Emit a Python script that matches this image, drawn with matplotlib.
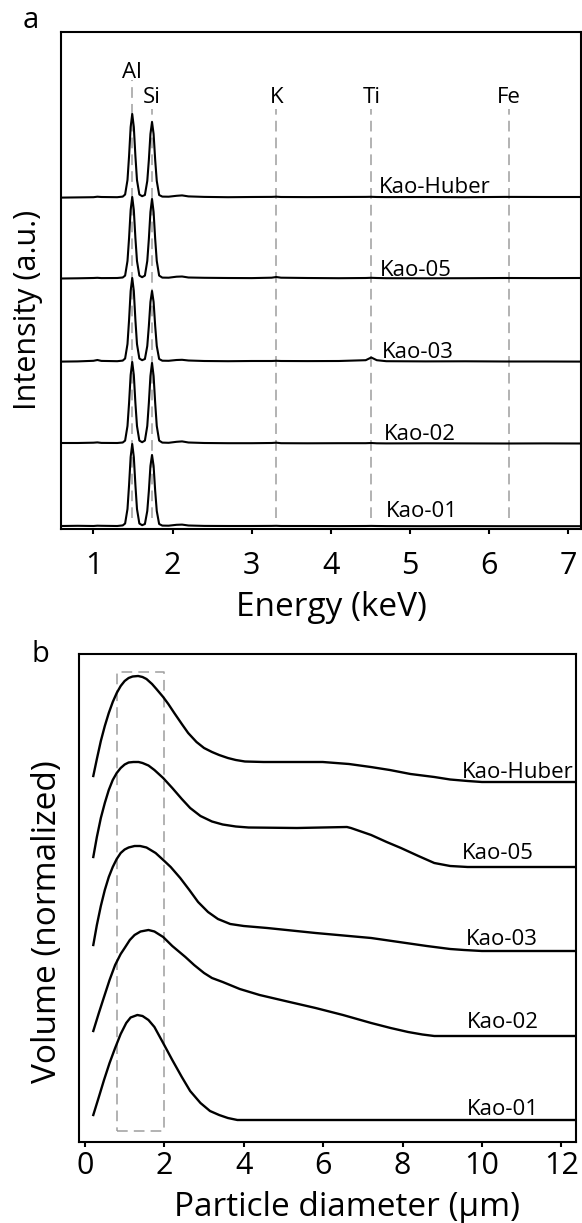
import matplotlib.pyplot as plt

plt.rcParams["font.family"] = ["Open Sans", "DejaVu Sans"]

# ---- panel a: EDS spectra (intensity in arbitrary units above each baseline)
energy_kev = [0.60, 0.80, 1.00, 1.05, 1.10, 1.30, 1.37,
              1.40, 1.43, 1.45, 1.47, 1.49, 1.51, 1.53, 1.55, 1.58,
              1.615,
              1.65, 1.68, 1.70, 1.72, 1.74, 1.76, 1.78, 1.80, 1.83,
              1.87, 1.95, 2.05, 2.12, 2.20, 2.40, 2.70, 3.00, 3.25, 3.31, 3.37,
              3.70, 4.10, 4.44, 4.51, 4.58, 4.70, 5.20, 5.70, 6.20, 6.70, 7.16]

eds_kao_huber = [-0.6, -0.4, -0.2, 0.3, 0.0, -0.2, 0.4,
                 2.5, 17, 41, 70, 83, 70, 41, 17, 2.5,
                 0.8,
                 2, 16, 37, 63, 75, 63, 37, 16, 2,
                 0.4, 0.3, 1.2, 1.6, 0.6, 0.1, -0.2, 0.0, 0.1, 0.3, 0.0,
                 -0.1, 0.0, 0.1, 0.2, 0.0, -0.1, 0.0, -0.2, 0.1, 0.0, 0.0]
eds_kao_05 = [-0.5, -0.3, 0.0, 0.2, -0.1, 0.0, 0.5,
              2.4, 17, 40, 68, 81, 68, 40, 17, 2.4,
              0.8,
              2.4, 17, 39, 66, 79, 66, 39, 17, 2.4,
              0.4, 0.3, 1.3, 1.5, 0.5, 0.2, 0.0, -0.1, 0.3, 1.0, 0.3,
              0.0, -0.2, 0.0, 0.2, 0.0, -0.2, -0.3, -0.2, 0.0, -0.1, 0.0]
eds_kao_03 = [-0.6, -0.4, 0.2, 1.0, 0.1, -0.2, 0.4,
              2.5, 17, 41, 70, 83, 70, 41, 17, 2.5,
              0.8,
              2, 15, 35, 59, 70, 59, 35, 15, 2,
              0.3, 0.2, 1.0, 1.2, 0.5, 0.0, -0.2, 0.0, 0.0, 0.2, 0.0,
              -0.1, 0.0, 0.8, 3.5, 0.8, -0.2, -0.4, -0.3, -0.5, -0.5, -0.6]
eds_kao_02 = [0.0, 0.0, 0.3, 0.6, 0.1, 0.0, 0.5,
              2.4, 17, 40, 68, 81, 68, 40, 17, 2.4,
              0.8,
              2.4, 17, 40, 67, 80, 67, 40, 17, 2.4,
              0.4, 0.2, 1.2, 1.6, 0.5, 0.0, -0.2, -0.2, 0.0, 0.3, -0.2,
              -0.3, -0.2, -0.2, 0.0, -0.3, -0.4, -0.3, -0.4, -0.5, -0.4, -0.5]
eds_kao_01 = [0.0, 0.2, 0.0, 0.3, 0.2, 0.0, 0.6,
              2.5, 17, 41, 69, 82, 69, 41, 17, 2.5,
              0.8,
              2, 15, 35, 60, 71, 60, 35, 15, 2,
              0.4, 0.3, 1.2, 1.4, 0.5, 0.1, 0.0, 0.0, 0.1, 0.2, 0.0,
              0.0, -0.1, 0.0, 0.1, 0.0, -0.1, -0.2, -0.1, -0.2, -0.2, -0.2]

eds_names = ["Kao-01", "Kao-02", "Kao-03", "Kao-05", "Kao-Huber"]
eds_series = [eds_kao_01, eds_kao_02, eds_kao_03, eds_kao_05, eds_kao_huber]
eds_offsets = [0, 83, 165, 248, 329]
eds_label_x = [4.69, 4.67, 4.65, 4.62, 4.60]
eds_label_y = [9, 86, 168, 250, 333]

element_names = ["Al", "Si", "K", "Ti", "Fe"]
element_kev = [1.486, 1.74, 3.31, 4.51, 6.25]

# ---- panel b: particle size distributions (normalized volume, stacked)
psd_kao_huber_x = [0.21, 0.30, 0.40, 0.50, 0.60, 0.70, 0.80, 0.90, 1.00, 1.10,
                   1.20, 1.34, 1.45, 1.55, 1.69, 1.80, 1.97, 2.10, 2.25, 2.44,
                   2.60, 2.81, 3.00, 3.20, 3.38, 3.60, 3.80, 4.03, 4.50, 5.00,
                   5.99, 6.65, 7.20, 7.68, 8.20, 8.80, 9.20, 9.64, 10.0, 12.35]
psd_kao_huber_y = [366, 383, 401, 416, 429, 440, 449, 456, 461, 464,
                   465.5, 466, 465, 463, 458, 453, 445, 438, 429, 418,
                   409, 400, 394, 390, 387, 384, 382, 380.5, 380, 380,
                   380, 378, 375, 372, 368, 365, 362.5, 361, 360, 360]
psd_kao_05_x = [0.21, 0.30, 0.40, 0.50, 0.60, 0.70, 0.80, 0.90, 1.00, 1.10,
                1.22, 1.35, 1.45, 1.60, 1.75, 1.97, 2.20, 2.44, 2.65, 2.91,
                3.20, 3.47, 3.80, 4.12, 5.34, 6.60, 6.70, 7.21, 7.60, 7.96,
                8.40, 8.80, 9.20, 9.64, 12.35]
psd_kao_05_y = [285, 305, 324, 339, 352, 362, 369, 374, 377.5, 379.5,
                380, 380, 379, 376.5, 372, 364, 354, 343, 334, 326,
                320.5, 317.5, 315.5, 314.5, 314, 315, 314, 307, 300, 294,
                286, 279, 276, 275, 275]
psd_kao_03_x = [0.21, 0.30, 0.40, 0.50, 0.60, 0.70, 0.80, 0.90, 1.00, 1.10,
                1.25, 1.39, 1.55, 1.78, 2.00, 2.16, 2.40, 2.63, 2.85, 3.10,
                3.35, 3.66, 4.00, 4.59, 5.81, 7.21, 8.61, 9.20, 9.55, 10.0,
                12.35]
psd_kao_03_y = [197, 217, 236, 252, 265, 275, 283, 289, 292.5, 294.5,
                296, 296, 294.5, 289, 281, 275, 264, 252, 240, 230,
                223, 218, 216, 214, 209, 204, 196, 193, 192, 191,
                191]
psd_kao_02_x = [0.21, 0.35, 0.48, 0.62, 0.76, 0.90, 1.00, 1.13, 1.25, 1.40,
                1.60, 1.75, 1.97, 2.20, 2.53, 2.75, 3.00, 3.20, 3.47, 3.90,
                4.40, 5.10, 5.81, 6.50, 7.21, 7.70, 8.14, 8.50, 8.80, 12.35]
psd_kao_02_y = [111, 129, 145, 162, 177, 188, 194, 202, 207, 210.5,
                212, 210.5, 205, 196, 185, 177, 169, 164, 160, 153,
                147, 140.5, 134, 127, 119, 114, 110, 107.5, 106, 106]
psd_kao_01_x = [0.21, 0.35, 0.48, 0.62, 0.76, 0.90, 1.04, 1.15, 1.32, 1.45,
                1.60, 1.75, 1.97, 2.20, 2.44, 2.65, 2.91, 3.15, 3.38, 3.60,
                3.84, 12.35]
psd_kao_01_y = [27, 45, 62, 79, 94, 108, 119, 124.5, 127, 126,
                122, 115, 99, 82, 65, 51, 39, 31, 27, 24,
                22, 22]

psd_names = ["Kao-01", "Kao-02", "Kao-03", "Kao-05", "Kao-Huber"]
psd_x = [psd_kao_01_x, psd_kao_02_x, psd_kao_03_x, psd_kao_05_x, psd_kao_huber_x]
psd_y = [psd_kao_01_y, psd_kao_02_y, psd_kao_03_y, psd_kao_05_y, psd_kao_huber_y]
psd_label_x = [9.63, 9.62, 9.6, 9.5, 9.5]
psd_label_y = [27, 114, 197, 283, 364]

W, H = 582, 1223
fig = plt.figure(figsize=(W / 100, H / 100), dpi=100)


def axes_px(left, top, right, bottom):
    return fig.add_axes([left / W, 1 - bottom / H, (right - left) / W, (bottom - top) / H])


def style_axes(ax, ticks, size, pad):
    for s in ax.spines.values():
        s.set_linewidth(1.5)
    ax.set_yticks([])
    ax.set_xticks(ticks)
    ax.tick_params(axis="x", direction="out", length=3.6, width=1.5,
                   labelsize=size, pad=pad)


# panel a
ax = axes_px(61, 32, 581, 529)
for name, kev in zip(element_names, element_kev):
    top = 446 if name == "Al" else 417
    ax.plot([kev, kev], [8, top], color="#9e9e9e", lw=1.1, ls=(0, (7, 4)), zorder=1)
    ax.text(kev, 448 if name == "Al" else 423, name, ha="center", va="baseline",
            fontsize=16)
for name, vals, off, lx, ly in zip(eds_names, eds_series, eds_offsets,
                                   eds_label_x, eds_label_y):
    ax.plot(energy_kev, [v + off for v in vals], color="black", lw=1.5, zorder=2)
    ax.text(lx, ly, name, ha="left", va="baseline", fontsize=16)
ax.set_xlim(0.59, 7.16)
ax.set_ylim(-3, 494)
style_axes(ax, [1, 2, 3, 4, 5, 6, 7], 22, 12)

# panel b
bx = axes_px(79, 654, 576, 1142)
bx.plot([0.8, 2.0, 2.0, 0.8, 0.8], [11, 11, 470, 470, 11], color="#9e9e9e",
        lw=1.1, ls=(0, (7, 4)), zorder=1)
for name, xs, ys, lx, ly in zip(psd_names, psd_x, psd_y, psd_label_x, psd_label_y):
    bx.plot(xs, ys, color="black", lw=1.7, zorder=2)
    bx.text(lx, ly, name, ha="left", va="baseline", fontsize=16)
bx.set_xlim(-0.15, 12.37)
bx.set_ylim(0, 488)
style_axes(bx, [0, 2, 4, 6, 8, 10, 12], 22, 3)

fig.text(28 / W, 1 - 310 / H, "Intensity (a.u.)", rotation=90, ha="center",
         va="center", fontsize=22)
fig.text(331 / W, 1 - 608 / H, "Energy (keV)", ha="center", va="center", fontsize=24)
fig.text(48 / W, 1 - 922 / H, "Volume (normalized)", rotation=90, ha="center",
         va="center", fontsize=24)
fig.text(347 / W, 1 - 1207 / H, "Particle diameter (μm)", ha="center",
         va="center", fontsize=24)
fig.text(31 / W, 1 - 21 / H, "a", ha="center", va="center", fontsize=21)
fig.text(40 / W, 1 - 655 / H, "b", ha="center", va="center", fontsize=21)

fig.savefig("out.png", dpi=100)
